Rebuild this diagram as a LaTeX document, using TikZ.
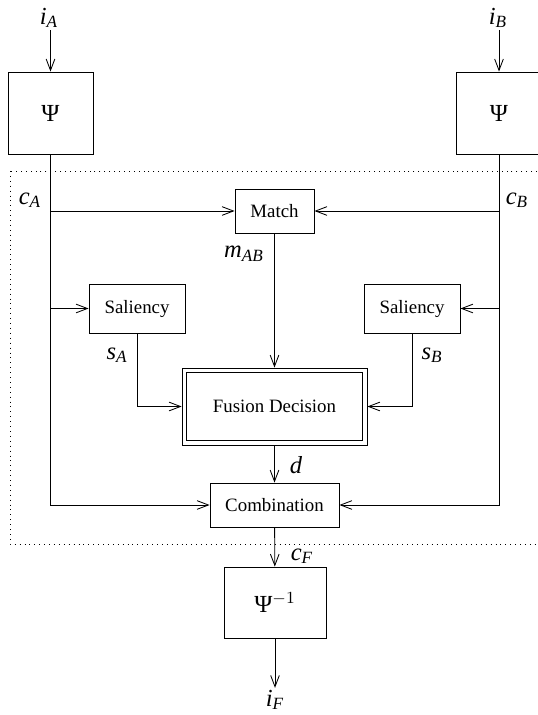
\documentclass[tikz,border=0pt]{standalone}
\usepackage{fontspec}
\setmainfont{Liberation Serif}
\usetikzlibrary{arrows.meta}
\tikzset{
  blk/.style={draw, line width=0.45pt, inner sep=0pt, font=\fontsize{10}{12}\selectfont},
  big/.style={font=\fontsize{13}{15}\selectfont},
  lbl/.style={inner sep=1pt, font=\fontsize{13}{15}\selectfont},
  flow/.style={line width=0.45pt, -{Straight Barb[length=6pt,width=4.6pt]}},
  zone/.style={line width=0.5pt, dash pattern=on 0.5pt off 2.1pt},
}
\newcommand{\lab}[2]{$\mathit{#1}_{\mathit{#2}}$}
\begin{document}
\begin{tikzpicture}[x=0.53pt, y=-0.53pt]
  \useasboundingbox (0,0) rectangle (538,715);
  % fusion region
  \draw[zone] (10,171) rectangle (548,544);
  % transforms
  \node[blk, big, minimum width=45pt, minimum height=43.5pt] (psiA) at (50.5,113) {Ψ};
  \node[blk, big, minimum width=45pt, minimum height=43.5pt] (psiB) at (499,113) {Ψ};
  \node[blk, big, minimum width=54pt, minimum height=37.6pt] (psiinv) at (275,602.5) {Ψ$^{-1}$};
  % processing blocks
  \node[blk, minimum width=41.9pt, minimum height=23.3pt] (match) at (274.5,211) {Match};
  \node[blk, minimum width=50.9pt, minimum height=26pt] (salA) at (137,308.5) {Saliency};
  \node[blk, minimum width=50.9pt, minimum height=26pt] (salB) at (412,308.5) {Saliency};
  \node[blk, minimum width=98pt, minimum height=40.8pt] (fusion) at (274.5,406.5) {Fusion Decision};
  \draw[line width=0.45pt] ([shift={(5,5)}]fusion.north west) rectangle ([shift={(-5,-5)}]fusion.south east);
  \node[blk, minimum width=68.4pt, minimum height=23.3pt] (comb) at (274.5,505) {Combination};
  % labels
  \node[lbl] (iA) at (49,18) {\lab{i}{A}};
  \node[lbl] (iB) at (498,18) {\lab{i}{B}};
  \node[lbl] (cA) at (30,200) {\lab{c}{A}};
  \node[lbl] (cB) at (517,200) {\lab{c}{B}};
  \node[lbl] (mAB) at (244,254) {\lab{m}{AB}};
  \node[lbl] (sA) at (117,355) {\lab{s}{A}};
  \node[lbl] (sB) at (432,355) {\lab{s}{B}};
  \node[lbl] (d) at (296,465) {$\mathit{d}$};
  \node[lbl] (cF) at (302,556) {\lab{c}{F}};
  \node[lbl] (iF) at (275,700) {\lab{i}{F}};
  % connections
  \draw[flow] (psiA.north |- iA.south) -- (psiA.north);
  \draw[flow] (psiB.north |- iB.south) -- (psiB.north);
  \draw[flow] (psiA.south) |- (comb.west);
  \draw[flow] (psiB.south) |- (comb.east);
  \draw[flow] (psiA.south |- match.west) -- (match.west);
  \draw[flow] (psiB.south |- match.east) -- (match.east);
  \draw[flow] (psiA.south |- salA.west) -- (salA.west);
  \draw[flow] (psiB.south |- salB.east) -- (salB.east);
  \draw[flow] (match) -- (fusion);
  \draw[flow] (salA.south) |- (fusion.west);
  \draw[flow] (salB.south) |- (fusion.east);
  \draw[flow] (fusion) -- (comb);
  \draw[flow] (comb) -- (psiinv);
  \draw[flow] (psiinv.south) -- (psiinv.south |- iF.north);
\end{tikzpicture}
\end{document}
